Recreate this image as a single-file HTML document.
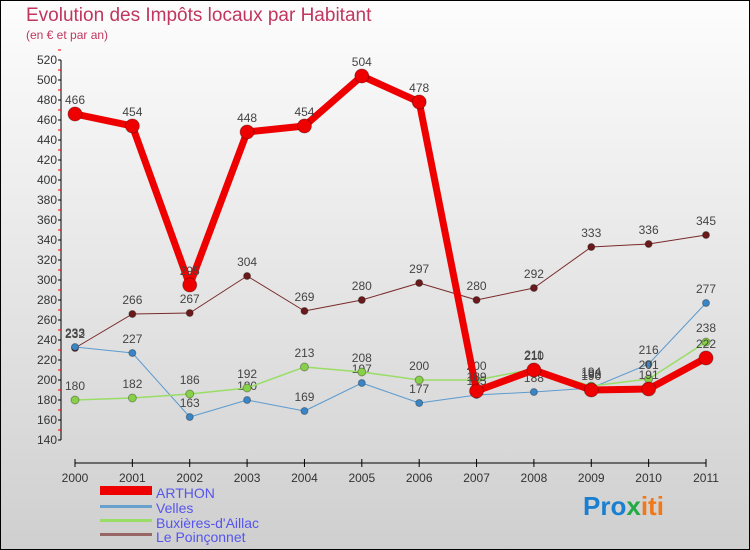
<!DOCTYPE html>
<html><head><meta charset="utf-8"><style>
body{margin:0;width:750px;height:550px;overflow:hidden}
svg{display:block;font-family:"Liberation Sans",sans-serif}
</style></head><body>
<svg id="c" width="750" height="550">
<defs><linearGradient id="bg" x1="0" y1="0" x2="0" y2="1"><stop offset="0" stop-color="#fdfdfd"/><stop offset="1" stop-color="#cfcfcf"/></linearGradient></defs>
<rect x="0.5" y="0.5" width="749" height="549" fill="url(#bg)" stroke="#000"/>
<text x="26" y="21" font-size="19" fill="#c0365e">Evolution des Impôts locaux par Habitant</text>
<text x="26" y="39" font-size="12" fill="#c0365e">(en € et par an)</text>
<g id="axes"></g><g id="series"></g>
<g>
<rect x="100" y="486" width="52" height="9" fill="#e00"/>
<text x="156" y="498" font-size="14" fill="#5555ee">ARTHON</text>
<rect x="100" y="505" width="52" height="3" fill="#6aa0cc"/>
<text x="156" y="513" font-size="14" fill="#5555ee">Velles</text>
<rect x="100" y="519" width="52" height="3" fill="#99dd66"/>
<text x="156" y="528" font-size="14" fill="#5555ee">Buxières-d'Aillac</text>
<rect x="100" y="533" width="52" height="3" fill="#996666"/>
<text x="156" y="542" font-size="14" fill="#5555ee">Le Poinçonnet</text>
</g>
<text x="583" y="515" font-size="26" font-weight="bold"><tspan fill="#1a7fd0">Pro</tspan><tspan fill="#22aa44">x</tspan><tspan fill="#f07818">iti</tspan></text>
</svg>
<script>
const years=["2000","2001","2002","2003","2004","2005","2006","2007","2008","2009","2010","2011"];
const yTicks=[140,160,180,200,220,240,260,280,300,320,340,360,380,400,420,440,460,480,500,520];
const arthon=[466,454,295,448,454,504,478,189,210,190,191,222];
const velles=[233,227,163,180,169,197,177,185,188,192,216,277];
const buxieres=[180,182,186,192,213,208,200,200,211,194,201,238];
const poinconnet=[232,266,267,304,269,280,297,280,292,333,336,345];
const NS="http://www.w3.org/2000/svg";
const X=i=>75+i*(706-75)/11;
const Y=v=>60+(520-v)*380/380;
function mk(t,a,p){const e=document.createElementNS(NS,t);for(const k in a)e.setAttribute(k,a[k]);p.appendChild(e);return e;}
const ax=document.getElementById('axes');
let l=mk('line',{x1:61,y1:60,x2:61,y2:440,stroke:'#000'},ax);


yTicks.forEach(v=>{
 mk('line',{x1:58,y1:Y(v),x2:61,y2:Y(v),stroke:'#000'},ax);
 mk('line',{x1:58,y1:Y(v+10),x2:61,y2:Y(v+10),stroke:'#e00'},ax);
 const t=mk('text',{x:57,y:Y(v)+4,'font-size':12,'text-anchor':'end',fill:'#333'},ax);t.textContent=v;
 
 
});
l=mk('line',{x1:75,y1:463,x2:706,y2:463,stroke:'#000'},ax);


years.forEach((y,i)=>{
 mk('line',{x1:X(i),y1:459,x2:X(i),y2:467,stroke:'#000'},ax);
 const t=mk('text',{x:X(i),y:482,'font-size':12,'text-anchor':'middle',fill:'#333'},ax);t.textContent=y;
 
 
});
const sg=document.getElementById('series');
function draw(d,name,col,w,r,dot){
 const g=mk('g',{},sg);
 
 
 const p=mk('polyline',{points:d.map((v,i)=>X(i)+','+Y(v)).join(' '),fill:'none',stroke:col,'stroke-width':w,'stroke-linejoin':'round'},g);
 
 
 d.forEach((v,i)=>{
  const c=mk('circle',{cx:X(i),cy:Y(v),r:r,fill:dot,stroke:'rgba(0,0,0,0.3)'},g);
  
  
  const t=mk('text',{x:X(i),y:Y(v)-10,'font-size':12,'text-anchor':'middle',fill:'#444'},g);t.textContent=v;
  
  
 });
}
draw(poinconnet,'poinconnet','#7a2a2a',1,3.5,'#6a1a1a');
draw(velles,'velles','#5b9bd0',1,3.5,'#3a85c5');
draw(buxieres,'buxieres','#99dd66',1.5,4,'#88d04a');
draw(arthon,'arthon','#ee0000',7,7,'#ee0000');
</script>
</body></html>
